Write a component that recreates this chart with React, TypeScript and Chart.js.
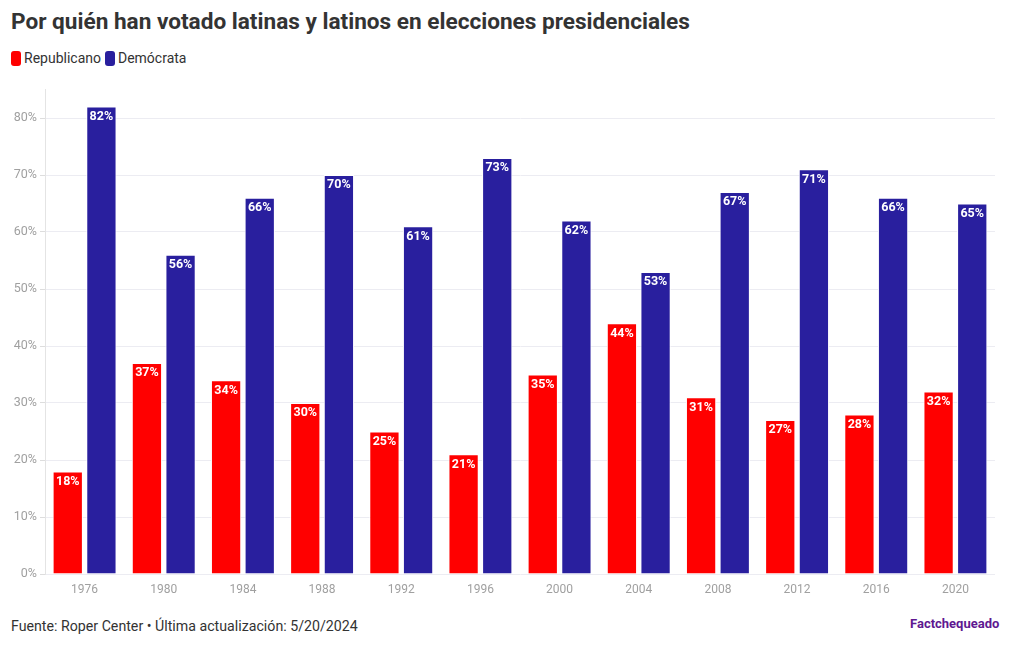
import React, { useEffect, useRef } from "react";
import { Chart, registerables } from "chart.js";

Chart.register(...registerables);

const years = ["1976", "1980", "1984", "1988", "1992", "1996", "2000", "2004", "2008", "2012", "2016", "2020"];
const republicano = [18, 37, 34, 30, 25, 21, 35, 44, 31, 27, 28, 32];
const democrata = [82, 56, 66, 70, 61, 73, 62, 53, 67, 71, 66, 65];
const yTicks = [0, 10, 20, 30, 40, 50, 60, 70, 80];

const RED = "#ff0000";
const BLUE = "#291f9e";
const FONT = "Roboto, 'Noto Sans', sans-serif";

const labelPlugin = {
  id: "barLabels",
  afterDatasetsDraw(chart: any) {
    const ctx = chart.ctx;
    ctx.save();
    ctx.font = `bold 12.5px ${FONT}`;
    ctx.fillStyle = "#ffffff";
    ctx.textAlign = "center";
    ctx.textBaseline = "top";
    chart.data.datasets.forEach((ds: any, i: number) => {
      const meta = chart.getDatasetMeta(i);
      meta.data.forEach((el: any, j: number) => {
        ctx.fillText(ds.data[j] + "%", el.x, el.y + 4);
      });
    });
    ctx.restore();
  },
};

function BarChart() {
  const ref = useRef<HTMLCanvasElement>(null);
  useEffect(() => {
    if (!ref.current) return;
    const chart = new Chart(ref.current, {
      type: "bar",
      data: {
        labels: years,
        datasets: [
          {
            label: "Republicano",
            data: republicano,
            backgroundColor: RED,
            borderColor: "#ffffff",
            borderWidth: 1,
            categoryPercentage: 0.85,
            barPercentage: 0.9,
          },
          {
            label: "Demócrata",
            data: democrata,
            backgroundColor: BLUE,
            borderColor: "#ffffff",
            borderWidth: 1,
            categoryPercentage: 0.85,
            barPercentage: 0.9,
          },
        ],
      },
      options: {
        animation: false,
        responsive: true,
        maintainAspectRatio: false,
        layout: { padding: { top: 3, right: 13, left: 0, bottom: 0 } },
        plugins: {
          legend: { display: false },
          title: { display: false },
          tooltip: { enabled: false },
        },
        scales: {
          x: {
            grid: { display: false, drawTicks: false },
            border: { display: false },
            ticks: {
              color: "#a0a0a0",
              font: { family: FONT, size: 12 },
              padding: 9,
            },
            afterFit(scale: any) {
              scale.height = 26;
            },
          },
          y: {
            min: 0,
            max: 85,
            afterBuildTicks(scale: any) {
              scale.ticks = yTicks.map((v) => ({ value: v }));
            },
            grid: { color: "#ececf2", tickLength: 5, tickColor: "#dddddd" },
            border: { display: true, color: "#e4e4e4" },
            ticks: {
              color: "#a0a0a0",
              font: { family: FONT, size: 12.5 },
              padding: 3,
              callback: (v: any) => v + "%",
            },
            afterFit(scale: any) {
              scale.width = 45;
            },
          },
        },
      },
      plugins: [labelPlugin],
    });
    return () => chart.destroy();
  }, []);
  return <canvas ref={ref} />;
}

export default function App() {
  useEffect(() => {
    document.body.style.margin = "0";
  }, []);
  return (
    <div style={{ position: "relative", width: 1020, height: 650, background: "#fff", fontFamily: FONT, overflow: "hidden" }}>
      <div style={{ position: "absolute", left: 11, top: 8, fontSize: 22.6, fontWeight: 700, color: "#333333" }}>
        Por quién han votado latinas y latinos en elecciones presidenciales
      </div>
      <div style={{ position: "absolute", left: 11, top: 50, display: "flex", alignItems: "center", fontSize: 14, color: "#333333" }}>
        <span style={{ display: "inline-block", width: 10, height: 15, borderRadius: 3, background: RED, marginRight: 3 }} />
        <span style={{ marginRight: 4 }}>Republicano</span>
        <span style={{ display: "inline-block", width: 10, height: 15, borderRadius: 3, background: BLUE, marginRight: 3 }} />
        <span>Demócrata</span>
      </div>
      <div style={{ position: "absolute", left: 0, top: 79, width: 1008, height: 521 }}>
        <BarChart />
      </div>
      <div style={{ position: "absolute", left: 11, top: 618, fontSize: 14.2, color: "#333333" }}>
        Fuente: Roper Center • Última actualización: 5/20/2024
      </div>
      <div style={{ position: "absolute", left: 910, top: 616, fontSize: 13, fontWeight: 700, color: "#5e1891" }}>
        Factchequeado
      </div>
    </div>
  );
}
